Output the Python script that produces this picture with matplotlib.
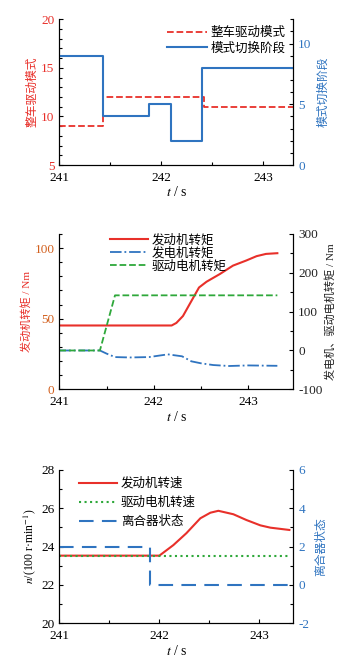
import numpy as np
import matplotlib
matplotlib.use("Agg")
import matplotlib.pyplot as plt
from matplotlib.ticker import MultipleLocator

plt.rcParams['font.family'] = ['Liberation Serif', 'Noto Sans CJK SC']
plt.rcParams['mathtext.fontset'] = 'stix'
plt.rcParams['font.size'] = 9
plt.rcParams['axes.unicode_minus'] = False

RED = '#e8302a'
BLUE = '#2f74c0'
GREEN = '#2ea83a'

# panel 1: drive mode / mode switching stage
t_mode = [241, 241.43, 242.42, 243.3]
drive_mode = [9, 12, 11, 11]
t_stage = [241, 241.43, 241.88, 242.10, 242.40, 243.3]
switch_stage = [9, 4, 5, 2, 8, 8]

# panel 2: torques
t_eng = [241, 242.19, 242.24, 242.31, 242.40, 242.48, 242.56, 242.70, 242.84,
         242.98, 243.09, 243.19, 243.31]
eng_torque = [45.2, 45.2, 47, 51.9, 62.6, 72.1, 76.2, 81.6, 87.6, 91.2, 94.3, 95.9, 96.4]
t_gen = [241, 241.43, 241.50, 241.59, 241.75, 241.95, 242.15, 242.30, 242.40,
         242.50, 242.63, 242.80, 243.00, 243.31]
gen_torque = [0, 0, -8, -17, -18, -17, -10, -15, -28, -33, -37.5, -40, -38.5, -39.5]
t_drv = [241, 241.43, 241.59, 243.31]
drv_torque = [0, 0, 142, 142]

# panel 3: speeds and clutch
t_spd = [241, 242.0, 242.14, 242.27, 242.41, 242.51, 242.59, 242.74, 242.87,
         243.01, 243.11, 243.30]
eng_speed = [23.53, 23.53, 24.08, 24.7, 25.48, 25.77, 25.87, 25.69, 25.39,
             25.11, 24.99, 24.87]
t_mot = [241, 243.3]
mot_speed = [23.53, 23.53]
t_clu = [241, 241.91, 243.34]
clutch = [2, 0, 0]


def style(ax, ax2, lcol, rcol):
    for a in (ax, ax2):
        a.spines['top'].set_visible(False)
        a.tick_params(direction='in', which='both', length=3, width=0.8, labelsize=9.5)
        a.tick_params(which='minor', length=2)
    ax.tick_params(axis='x', pad=5)
    ax.tick_params(axis='y', colors='k', labelcolor=lcol)
    ax2.tick_params(axis='y', colors='k', labelcolor=rcol)
    ax.xaxis.set_major_locator(MultipleLocator(1))
    ax.xaxis.set_minor_locator(MultipleLocator(0.5))
    ax.set_xlabel('$t$ / s', labelpad=1, fontsize=10)


fig = plt.figure(figsize=(3.52, 6.64), dpi=100)

# ---- fig 1
ax = fig.add_axes([0.1685, 0.7515, 0.665, 0.2194])
ax2 = ax.twinx()
l1, = ax.plot(t_mode, drive_mode, '--', color=RED, lw=1.3, drawstyle='steps-post')
l2, = ax2.plot(t_stage, switch_stage, '-', color=BLUE, lw=1.5, drawstyle='steps-post')
ax.set_xlim(241, 243.3)
ax.set_ylim(5, 20)
ax2.set_ylim(0, 12)
ax.yaxis.set_major_locator(MultipleLocator(5))
ax.yaxis.set_minor_locator(MultipleLocator(1))
ax2.yaxis.set_major_locator(MultipleLocator(5))
ax2.yaxis.set_minor_locator(MultipleLocator(1))
style(ax, ax2, RED, BLUE)
ax.set_ylabel('整车驱动模式', color=RED, labelpad=2, fontsize=8.5)
ax2.set_ylabel('模式切换阶段', color=BLUE, labelpad=4, fontsize=8.5)
ax.legend([l1, l2], ['整车驱动模式', '模式切换阶段'], loc='upper right', frameon=False,
          handlelength=3.2, borderaxespad=0.2, labelspacing=0.25, handletextpad=0.3)

# ---- fig 2
ax = fig.add_axes([0.1685, 0.4137, 0.665, 0.2339])
ax2 = ax.twinx()
l1, = ax.plot(t_eng, eng_torque, '-', color=RED, lw=1.5)
l2, = ax2.plot(t_gen, gen_torque, '-.', color=BLUE, lw=1.3)
l3, = ax2.plot(t_drv, drv_torque, '--', color=GREEN, lw=1.3)
ax.set_xlim(241, 243.48)
ax.set_ylim(0, 110)
ax2.set_ylim(-100, 300)
ax.yaxis.set_major_locator(MultipleLocator(50))
ax.yaxis.set_minor_locator(MultipleLocator(10))
ax2.yaxis.set_major_locator(MultipleLocator(100))
ax2.yaxis.set_minor_locator(MultipleLocator(50))
style(ax, ax2, '#d2601e', '#222222')
ax.set_ylabel('发动机转矩 / Nm', color=RED, labelpad=2, fontsize=8)
ax2.set_ylabel('发电机、驱动电机转矩 / Nm', color='#222222', labelpad=2, fontsize=8)
ax.legend([l1, l2, l3], ['发动机转矩', '发电机转矩', '驱动电机转矩'], loc='upper left',
          bbox_to_anchor=(0.19, 1.04), frameon=False, handlelength=3.0,
          borderaxespad=0.1, labelspacing=0.05, handletextpad=0.3)

# ---- fig 3
ax = fig.add_axes([0.1685, 0.0613, 0.665, 0.2309])
ax2 = ax.twinx()
l1, = ax.plot(t_spd, eng_speed, '-', color=RED, lw=1.5)
l2, = ax.plot(t_mot, mot_speed, ':', color=GREEN, lw=1.5)
l3, = ax2.plot(t_clu, clutch, '--', color=BLUE, lw=1.5, drawstyle='steps-post', dashes=(7, 4))
ax.set_xlim(241, 243.34)
ax.set_ylim(20, 28)
ax2.set_ylim(-2, 6)
ax.yaxis.set_major_locator(MultipleLocator(2))
ax.yaxis.set_minor_locator(MultipleLocator(1))
ax2.yaxis.set_major_locator(MultipleLocator(2))
ax2.yaxis.set_minor_locator(MultipleLocator(1))
style(ax, ax2, 'k', BLUE)
ax.set_ylabel('$n$/(100 r·min$^{-1}$)', labelpad=2, fontsize=8.5)
ax2.set_ylabel('离合器状态', color=BLUE, labelpad=4, fontsize=8.5)
ax.legend([l1, l2, l3], ['发动机转速', '驱动电机转速', '离合器状态'], loc='upper left',
          bbox_to_anchor=(0.05, 1.0), frameon=False, handlelength=3.1,
          borderaxespad=0.2, labelspacing=0.55, handletextpad=0.3)

fig.savefig('out.png', dpi=100)
